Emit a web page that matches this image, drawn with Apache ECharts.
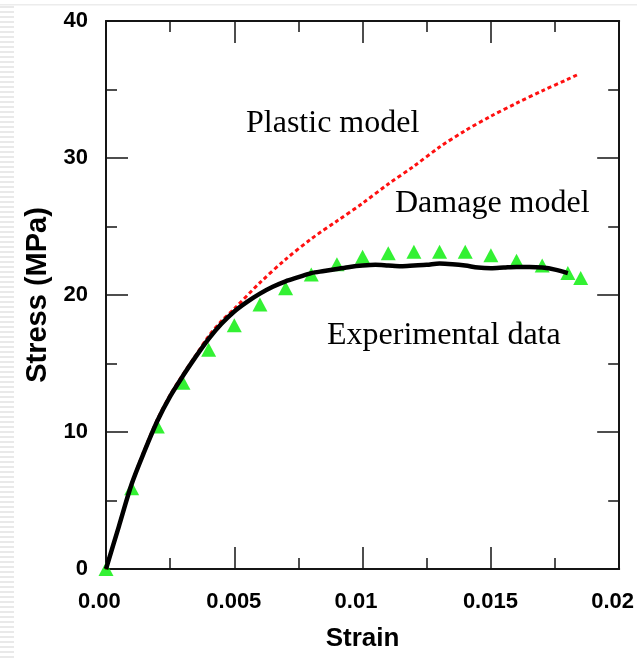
<!DOCTYPE html>
<html>
<head>
<meta charset="utf-8">
<script src="https://cdn.jsdelivr.net/npm/echarts@6/dist/echarts.min.js"></script>
<style>
  html, body { margin: 0; padding: 0; background: #ffffff; }
  #chart { width: 637px; height: 660px; }
</style>
</head>
<body>
<div id="chart"></div>
<script>
// Strain (mm/mm) vs stress (MPa)
const xTickLabels = ['0.00', '0.005', '0.01', '0.015', '0.02'];
const yTickLabels = ['0', '10', '20', '30', '40'];

// Plastic model prediction
const plasticStrain = [0, 0.0005, 0.001, 0.0015, 0.002, 0.0025, 0.003, 0.0035, 0.004, 0.0045, 0.005, 0.006, 0.007, 0.008, 0.009, 0.010, 0.011, 0.012, 0.013, 0.014, 0.015, 0.016, 0.017, 0.018, 0.0184];
const plasticStress = [0, 3.1, 6.2, 8.7, 10.9, 12.7, 14.2, 15.6, 17.0, 18.1, 19.0, 20.9, 22.6, 24.1, 25.4, 26.7, 28.1, 29.4, 30.8, 32.0, 33.05, 34.0, 34.9, 35.75, 36.1];

// Damage model prediction
const damageStrain = [0, 0.0005, 0.001, 0.0015, 0.002, 0.0025, 0.003, 0.0035, 0.004, 0.0045, 0.005, 0.0055, 0.006, 0.0065, 0.007, 0.0075, 0.008, 0.0085, 0.009, 0.0095, 0.010, 0.0105, 0.011, 0.0115, 0.012, 0.0125, 0.013, 0.0135, 0.014, 0.0145, 0.015, 0.0155, 0.016, 0.0165, 0.017, 0.0175, 0.018];
const damageStress = [0, 3.1, 6.2, 8.6, 10.8, 12.6, 14.1, 15.5, 16.8, 17.9, 18.8, 19.5, 20.1, 20.6, 21.0, 21.3, 21.6, 21.75, 21.9, 22.05, 22.15, 22.2, 22.15, 22.1, 22.15, 22.2, 22.3, 22.25, 22.15, 22.0, 21.95, 22.0, 22.05, 22.05, 22.0, 21.85, 21.6];

// Experimental measurements
const expStrain = [0, 0.001, 0.002, 0.003, 0.004, 0.005, 0.006, 0.007, 0.008, 0.009, 0.010, 0.011, 0.012, 0.013, 0.014, 0.015, 0.016, 0.017, 0.018, 0.0185];
const expStress = [0, 5.9, 10.4, 13.6, 16.0, 17.8, 19.3, 20.5, 21.5, 22.25, 22.8, 23.05, 23.15, 23.15, 23.15, 22.9, 22.5, 22.15, 21.6, 21.25];

const zip = (xs, ys) => xs.map((x, i) => [x, ys[i]]);

const axisColor = '#151515';
const labelFont = { fontFamily: 'Liberation Sans', fontWeight: 'bold', fontSize: 22, color: '#000' };

function frameAxis(extra) {
  return Object.assign({
    type: 'value',
    axisLine: { show: true, onZero: false, lineStyle: { color: axisColor, width: 2 } },
    axisTick: { show: true, inside: true, length: 22, lineStyle: { color: axisColor, width: 1.5 } },
    minorTick: { show: true, inside: true, splitNumber: 2, length: 11, lineStyle: { color: axisColor, width: 1.5 } },
    splitLine: { show: false },
    minorSplitLine: { show: false }
  }, extra);
}

// light striped page margin and top rule
const decor = [
  { type: 'rect', shape: { x: 0, y: 4, width: 637, height: 1.5 }, style: { fill: '#ececec' } }
];
for (let y = 6; y < 660; y += 5) {
  decor.push({ type: 'rect', shape: { x: 0, y: y, width: 14, height: 2 }, style: { fill: '#e9e9e9' } });
}

const annotations = [
  { text: 'Plastic model', x: 246, y: 125 },
  { text: 'Damage model', x: 395, y: 205 },
  { text: 'Experimental data', x: 327, y: 337 }
].map(a => ({
  type: 'text', left: a.x, top: a.y - 17,
  style: { text: a.text, font: '32px "Liberation Serif"', fill: '#000' },
  z: 10
}));

const chart = echarts.init(document.getElementById('chart'), null, { renderer: 'canvas' });
chart.setOption({
  backgroundColor: '#ffffff',
  animation: false,
  grid: { left: 106, right: 17, top: 21, bottom: 91, containLabel: false },
  xAxis: [
    frameAxis({
      min: 0, max: 0.02, interval: 0.005, position: 'bottom',
      name: 'Strain', nameLocation: 'middle', nameGap: 57,
      nameTextStyle: { fontFamily: 'Liberation Sans', fontWeight: 'bold', fontSize: 26, color: '#000' },
      axisLabel: {
        show: true, margin: 22, align: 'center',
        formatter: v => '{t|' + xTickLabels[Math.round(v / 0.005)] + '}',
        rich: { t: Object.assign({ width: 56, align: 'left' }, labelFont) }
      }
    }),
    frameAxis({ min: 0, max: 0.02, interval: 0.005, position: 'top', axisLabel: { show: false } })
  ],
  yAxis: [
    frameAxis({
      min: 0, max: 40, interval: 10, position: 'left',
      name: 'Stress (MPa)', nameLocation: 'middle', nameGap: 53, nameRotate: 90,
      nameTextStyle: { fontFamily: 'Liberation Sans', fontWeight: 'bold', fontSize: 29, color: '#000' },
      axisLabel: Object.assign({
        show: true, margin: 18,
        formatter: v => yTickLabels[Math.round(v / 10)]
      }, labelFont)
    }),
    frameAxis({ min: 0, max: 40, interval: 10, position: 'right', axisLabel: { show: false } })
  ],
  graphic: decor.concat(annotations),
  series: [
    {
      name: 'Experimental data', type: 'scatter', xAxisIndex: 0, yAxisIndex: 0,
      data: zip(expStrain, expStress),
      symbol: 'triangle', symbolSize: [15, 14],
      itemStyle: { color: '#00ee00' }, z: 2
    },
    {
      name: 'Plastic model', type: 'line', xAxisIndex: 0, yAxisIndex: 0,
      data: zip(plasticStrain, plasticStress), smooth: 0.3,
      showSymbol: false,
      lineStyle: { color: '#ff1010', width: 3, type: [4, 3] }, z: 3
    },
    {
      name: 'Damage model', type: 'line', xAxisIndex: 0, yAxisIndex: 0,
      data: zip(damageStrain, damageStress), smooth: 0.3,
      showSymbol: false,
      lineStyle: { color: '#000000', width: 4.5 }, z: 4
    }
  ]
});
</script>
</body>
</html>
